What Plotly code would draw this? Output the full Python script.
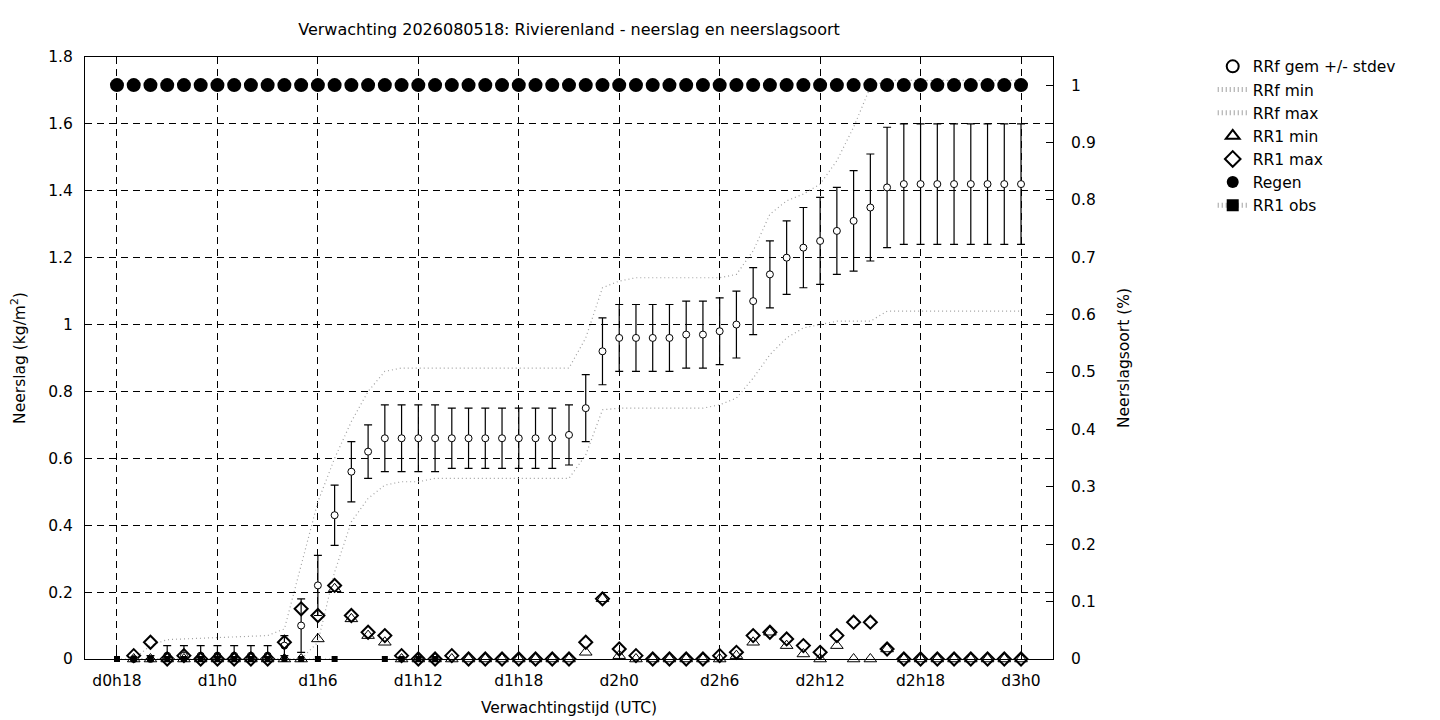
import plotly.graph_objects as go

# ---------------- data ----------------
hours_fc = list(range(19, 73))          # forecast hours 19..72
hours_all = list(range(18, 73))         # hours 18..72

tick_vals = [18, 24, 30, 36, 42, 48, 54, 60, 66, 72]
tick_text = ["d0h18", "d1h0", "d1h6", "d1h12", "d1h18", "d2h0", "d2h6", "d2h12", "d2h18", "d3h0"]

rrf_mean = [0.00, 0.00, 0.01, 0.01, 0.01, 0.01, 0.01, 0.01, 0.01,
            0.04, 0.10, 0.22, 0.43, 0.56, 0.62, 0.66, 0.66, 0.66, 0.66,
            0.66, 0.66, 0.66, 0.66, 0.66, 0.66, 0.66, 0.67, 0.75, 0.92,
            0.96, 0.96, 0.96, 0.96, 0.97, 0.97, 0.98, 1.00, 1.07, 1.15,
            1.20, 1.23, 1.25, 1.28, 1.31, 1.35, 1.41,
            1.42, 1.42, 1.42, 1.42, 1.42, 1.42, 1.42, 1.42]
rrf_std = [0.00, 0.01, 0.03, 0.03, 0.03, 0.03, 0.03, 0.03, 0.03,
           0.03, 0.08, 0.09, 0.09, 0.09, 0.08, 0.10, 0.10, 0.10, 0.10,
           0.09, 0.09, 0.09, 0.09, 0.09, 0.09, 0.09, 0.09, 0.10, 0.10,
           0.10, 0.10, 0.10, 0.10, 0.10, 0.10, 0.10, 0.10, 0.10, 0.10,
           0.11, 0.12, 0.13, 0.13, 0.15, 0.16, 0.18,
           0.18, 0.18, 0.18, 0.18, 0.18, 0.18, 0.18, 0.18]
rrf_min = [0.00, 0.00, 0.00, 0.00, 0.00, 0.00, 0.00, 0.00, 0.00,
           0.00, 0.00, 0.05, 0.26, 0.41, 0.48, 0.52, 0.53, 0.53, 0.54,
           0.54, 0.54, 0.54, 0.54, 0.54, 0.54, 0.54, 0.54, 0.61, 0.745,
           0.75, 0.75, 0.75, 0.75, 0.75, 0.75, 0.76, 0.78, 0.84, 0.91,
           0.96, 0.99, 1.00, 1.01, 1.01, 1.01, 1.04,
           1.04, 1.04, 1.04, 1.04, 1.04, 1.04, 1.04, 1.04]
rrf_max = [0.00, 0.04, 0.058, 0.06, 0.062, 0.065, 0.067, 0.068, 0.07,
           0.09, 0.28, 0.47, 0.60, 0.71, 0.80, 0.86, 0.87, 0.87, 0.87,
           0.87, 0.87, 0.87, 0.87, 0.87, 0.87, 0.87, 0.87, 0.96, 1.11,
           1.13, 1.14, 1.14, 1.14, 1.14, 1.14, 1.14, 1.15, 1.22, 1.33,
           1.37, 1.39, 1.42, 1.49, 1.59, 1.71, 1.73,
           1.73, 1.73, 1.73, 1.73, 1.73, 1.73, 1.73, 1.73]
rr1_min = [0.00, 0.00, 0.00, 0.00, 0.00, 0.00, 0.00, 0.00, 0.00,
           0.00, 0.00, 0.06, 0.21, 0.12, 0.07, 0.05, 0.00, 0.00, 0.00,
           0.00, 0.00, 0.00, 0.00, 0.00, 0.00, 0.00, 0.00, 0.02, 0.18,
           0.01, 0.00, 0.00, 0.00, 0.00, 0.00, 0.00, 0.01, 0.05, 0.08,
           0.04, 0.015, 0.00, 0.04, 0.00, 0.00, 0.03,
           0.00, 0.00, 0.00, 0.00, 0.00, 0.00, 0.00, 0.00]
rr1_max = [0.01, 0.05, 0.00, 0.01, 0.00, 0.00, 0.00, 0.00, 0.00,
           0.05, 0.15, 0.13, 0.22, 0.13, 0.08, 0.07, 0.01, 0.00, 0.00,
           0.01, 0.00, 0.00, 0.00, 0.00, 0.00, 0.00, 0.00, 0.05, 0.18,
           0.03, 0.01, 0.00, 0.00, 0.00, 0.00, 0.01, 0.02, 0.07, 0.08,
           0.06, 0.04, 0.02, 0.07, 0.11, 0.11, 0.03,
           0.00, 0.00, 0.00, 0.00, 0.00, 0.00, 0.00, 0.00]
regen = [1, 1, 1, 1, 1, 1, 1, 1, 1, 1, 1, 1, 1, 1, 1, 1, 1, 1, 1, 1,
         1, 1, 1, 1, 1, 1, 1, 1, 1, 1, 1, 1, 1, 1, 1, 1, 1, 1, 1, 1,
         1, 1, 1, 1, 1, 1, 1, 1, 1, 1, 1, 1, 1, 1, 1]
hours_obs = list(range(18, 38))
rr1_obs = [0, 0, 0, 0, 0, 0, 0, 0, 0, 0, 0, 0, 0, 0,
           None, None, 0, 0, 0, 0]

# ---------------- styling ----------------
FONT = "DejaVu Sans"
FS = 15.5
BLACK = "#000000"
DOT_GREY = "#a0a0a0"

# page body has an 8px margin: figure is drawn at (8, 8)
W, H = 1432, 712

fig = go.Figure()

fig.add_trace(go.Scatter(
    x=hours_fc, y=rrf_mean, name="RRf gem +/- stdev", mode="markers",
    marker=dict(symbol="circle", size=7, color="white", line=dict(color=BLACK, width=1)),
    error_y=dict(type="data", array=rrf_std, visible=True, color=BLACK, thickness=1.2, width=4),
    cliponaxis=False,
))
fig.add_trace(go.Scatter(
    x=hours_fc, y=rrf_min, name="RRf min", mode="lines",
    line=dict(color=DOT_GREY, width=1.2, dash="1px,3px"),
))
fig.add_trace(go.Scatter(
    x=hours_fc, y=rrf_max, name="RRf max", mode="lines",
    line=dict(color=DOT_GREY, width=1.2, dash="1px,3px"),
))
fig.add_trace(go.Scatter(
    x=hours_fc, y=rr1_min, name="RR1 min", mode="markers",
    marker=dict(symbol="triangle-up-open", size=11, color=BLACK, line=dict(width=1)),
    cliponaxis=False,
))
fig.add_trace(go.Scatter(
    x=hours_fc, y=rr1_max, name="RR1 max", mode="markers",
    marker=dict(symbol="diamond-open", size=10, color=BLACK, line=dict(width=2)),
    cliponaxis=False,
))
fig.add_trace(go.Scatter(
    x=hours_all, y=regen, name="Regen", mode="markers", yaxis="y2",
    marker=dict(symbol="circle", size=14, color=BLACK),
    cliponaxis=False,
))
fig.add_trace(go.Scatter(
    x=hours_obs, y=rr1_obs, name="RR1 obs", mode="lines+markers",
    line=dict(color=DOT_GREY, width=1, dash="1px,3px"),
    marker=dict(symbol="square", size=6, color=BLACK),
    cliponaxis=False, connectgaps=False,
))

fig.update_layout(
    width=W, height=H,
    margin=dict(l=77, r=387, t=49, b=61, autoexpand=False),
    paper_bgcolor="white", plot_bgcolor="white",
    font=dict(family=FONT, size=FS, color=BLACK),
    showlegend=True,
    title=dict(text="Verwachting 2026080518: Rivierenland - neerslag en neerslagsoort",
               x=561 / W, xref="container", xanchor="center",
               y=1 - 21 / H, yref="container", yanchor="middle",
               font=dict(family=FONT, size=16, color=BLACK)),
    legend=dict(x=1.165, y=1.012, xanchor="left", yanchor="top",
                bgcolor="rgba(0,0,0,0)", borderwidth=0,
                font=dict(family=FONT, size=FS, color=BLACK),
                tracegroupgap=0, itemsizing="constant"),
    xaxis=dict(range=[16.09, 73.91], tickvals=tick_vals, ticktext=tick_text,
               showgrid=True, gridcolor=BLACK, gridwidth=1, griddash="7px,5px",
               showline=True, linecolor=BLACK, linewidth=1, mirror="ticks",
               ticks="inside", ticklen=7, tickcolor=BLACK, zeroline=False,
               ticklabelstandoff=7, automargin=False,
               title=dict(text="Verwachtingstijd (UTC)", standoff=13,
                          font=dict(family=FONT, size=FS, color=BLACK))),
    yaxis=dict(range=[0, 1.8], dtick=0.2, tick0=0,
               showgrid=True, gridcolor=BLACK, gridwidth=1, griddash="7px,5px",
               showline=True, linecolor=BLACK, linewidth=1, mirror="ticks",
               ticks="inside", ticklen=7, tickcolor=BLACK, zeroline=False,
               ticklabelstandoff=8, automargin=False,
               title=dict(text="Neerslag (kg/m<sup>2</sup>)", standoff=24,
                          font=dict(family=FONT, size=FS, color=BLACK))),
    yaxis2=dict(range=[0, 1.049], dtick=0.1, tick0=0, overlaying="y", side="right",
                showgrid=False, showline=True, linecolor=BLACK, linewidth=1,
                ticks="inside", ticklen=7, tickcolor=BLACK, zeroline=False,
                ticklabelstandoff=14, automargin=False,
                title=dict(text="Neerslagsoort (%)", standoff=23,
                           font=dict(family=FONT, size=FS, color=BLACK))),
)

fig.write_html("out.html")
